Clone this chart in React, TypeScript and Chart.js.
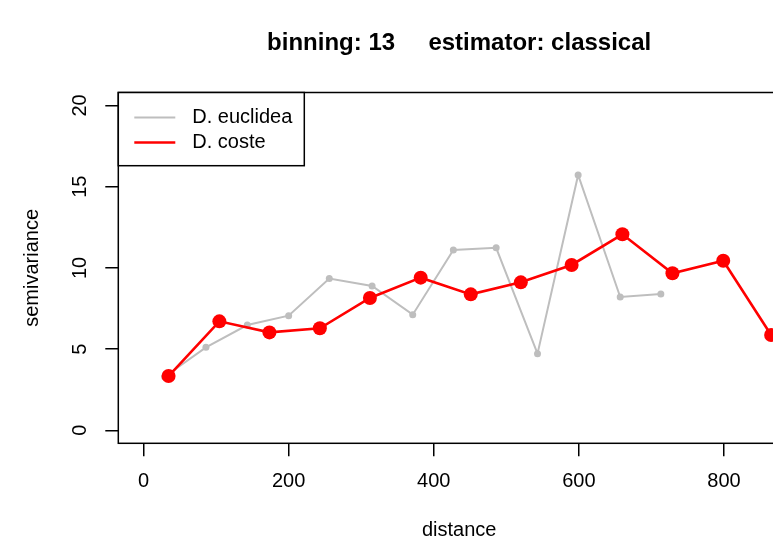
import React, { useEffect, useRef } from "react";
import { Chart, registerables } from "chart.js";

Chart.register(...registerables);

const FONT = "'Liberation Sans', Arial, Helvetica, sans-serif";

const TITLE = "binning: 13     estimator: classical";
const X_LABEL = "distance";
const Y_LABEL = "semivariance";
const X_TICKS = [0, 200, 400, 600, 800];
const Y_TICKS = [0, 5, 10, 15, 20];
const X_RANGE = [-34.8, 904.8];
const Y_RANGE = [-0.8, 20.8];

const SERIES_NAMES = ["D. euclidea", "D. coste"];
const SERIES_COLORS = ["#bebebe", "#ff0000"];

const euclideaDist = [29, 86, 143, 200, 256, 315, 371, 427, 486, 543, 599, 657, 713];
const euclideaGamma = [3.3, 5.11, 6.48, 7.06, 9.34, 8.89, 7.12, 11.1, 11.24, 4.72, 15.72, 8.21, 8.39];

const costeDist = [34.5, 104.5, 173.5, 243, 312, 382, 451, 520, 590, 660, 729, 799, 865];
const costeGamma = [3.34, 6.71, 6.03, 6.28, 8.15, 9.4, 8.37, 9.11, 10.18, 12.07, 9.67, 10.44, 5.87];

export default function App() {
  const ref = useRef<HTMLCanvasElement>(null);

  useEffect(() => {
    const canvas = ref.current;
    if (!canvas) return;

    const extras = {
      id: "rExtras",
      afterDraw(chart: any) {
        const { ctx, chartArea: a, scales } = chart;
        ctx.save();
        ctx.strokeStyle = "#000";
        ctx.lineWidth = 1.5;
        ctx.strokeRect(a.left, a.top, a.right - a.left, a.bottom - a.top);

        ctx.fillStyle = "#000";
        ctx.font = `20px ${FONT}`;
        ctx.textAlign = "center";
        ctx.textBaseline = "middle";
        Y_TICKS.forEach((v) => {
          const y = scales.y.getPixelForValue(v);
          ctx.save();
          ctx.translate(80, y);
          ctx.rotate(-Math.PI / 2);
          ctx.fillText(String(v), 0, 0);
          ctx.restore();
        });

        const lx = a.left;
        const ly = a.top;
        const lw = 186;
        const lh = 73.2;
        ctx.fillStyle = "#fff";
        ctx.fillRect(lx, ly, lw, lh);
        ctx.strokeStyle = "#000";
        ctx.lineWidth = 1.5;
        ctx.strokeRect(lx, ly, lw, lh);
        const widths = [2, 2.6];
        SERIES_NAMES.forEach((name, i) => {
          const y = ly + 25 + i * 25;
          ctx.strokeStyle = SERIES_COLORS[i];
          ctx.lineWidth = widths[i];
          ctx.beginPath();
          ctx.moveTo(lx + 16, y);
          ctx.lineTo(lx + 57, y);
          ctx.stroke();
          ctx.fillStyle = "#000";
          ctx.textAlign = "left";
          ctx.textBaseline = "middle";
          ctx.font = `20px ${FONT}`;
          ctx.fillText(name, lx + 74, y);
        });
        ctx.restore();
      },
    };

    const chart = new Chart(canvas, {
      type: "line",
      data: {
        datasets: [
          {
            label: SERIES_NAMES[0],
            data: euclideaDist.map((x, i) => ({ x, y: euclideaGamma[i] })),
            borderColor: SERIES_COLORS[0],
            backgroundColor: SERIES_COLORS[0],
            borderWidth: 2,
            pointRadius: 3.5,
            pointBorderWidth: 0,
            pointBackgroundColor: SERIES_COLORS[0],
            tension: 0,
            order: 2,
          },
          {
            label: SERIES_NAMES[1],
            data: costeDist.map((x, i) => ({ x, y: costeGamma[i] })),
            borderColor: SERIES_COLORS[1],
            backgroundColor: SERIES_COLORS[1],
            borderWidth: 2.6,
            pointRadius: 7,
            pointBorderWidth: 0,
            pointBackgroundColor: SERIES_COLORS[1],
            tension: 0,
            order: 1,
          },
        ],
      },
      options: {
        responsive: false,
        animation: false,
        devicePixelRatio: 1,
        layout: { padding: { left: 0, right: 1.4, top: 0, bottom: 0 } },
        plugins: {
          legend: { display: false },
          tooltip: { enabled: false },
          title: {
            display: true,
            text: TITLE,
            fullSize: false,
            color: "#000",
            font: { family: FONT, size: 24, weight: "bold", lineHeight: 1.2 },
            padding: { top: 28.9, bottom: 34.8 },
          },
        },
        scales: {
          x: {
            type: "linear",
            min: X_RANGE[0],
            max: X_RANGE[1],
            afterBuildTicks: (s: any) => {
              s.ticks = X_TICKS.map((v) => ({ value: v }));
            },
            afterFit: (s: any) => {
              s.height = 98.7;
            },
            grid: {
              display: true,
              drawOnChartArea: false,
              drawTicks: true,
              tickLength: 13,
              color: "#000",
              lineWidth: 1.5,
            },
            border: { display: false },
            ticks: {
              color: "#000",
              font: { family: FONT, size: 20 },
              padding: 12.7,
              maxRotation: 0,
              minRotation: 0,
              autoSkip: false,
            },
            title: {
              display: true,
              text: X_LABEL,
              color: "#000",
              font: { family: FONT, size: 20 },
              padding: { top: 0, bottom: 0 },
            },
          },
          y: {
            type: "linear",
            min: Y_RANGE[0],
            max: Y_RANGE[1],
            afterBuildTicks: (s: any) => {
              s.ticks = Y_TICKS.map((v) => ({ value: v }));
            },
            afterFit: (s: any) => {
              s.width = 118.3;
            },
            grid: {
              display: true,
              drawOnChartArea: false,
              drawTicks: true,
              tickLength: 13,
              color: "#000",
              lineWidth: 1.5,
            },
            border: { display: false },
            ticks: { display: false },
            title: {
              display: true,
              text: Y_LABEL,
              color: "#000",
              font: { family: FONT, size: 20 },
              padding: { top: 20, bottom: 0 },
            },
          },
        },
      },
      plugins: [extras],
    } as any);

    return () => chart.destroy();
  }, []);

  return (
    <div
      style={{
        position: "fixed",
        left: 0,
        top: 0,
        width: 773,
        height: 542,
        overflow: "hidden",
        background: "#fff",
      }}
    >
      <canvas ref={ref} width={807} height={542} style={{ display: "block" }} />
    </div>
  );
}
